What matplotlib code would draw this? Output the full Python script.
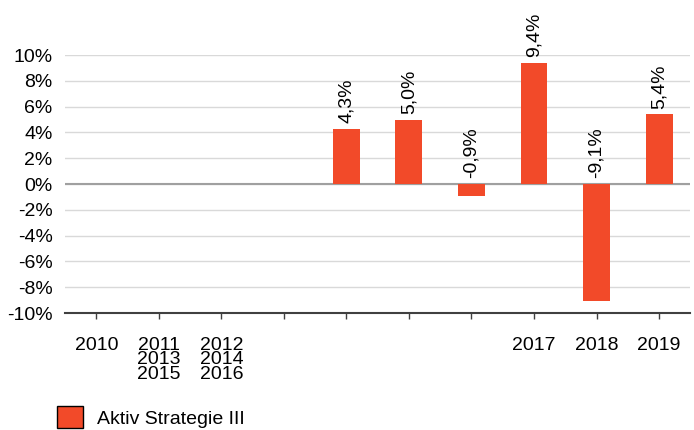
import matplotlib
matplotlib.use("Agg")
import matplotlib.pyplot as plt
from matplotlib.patches import Patch
import matplotlib.transforms as mtransforms

categories = ["2010", "2011\n2013\n2015", "2012\n2014\n2016", "", "", "", "", "2017", "2018", "2019"]
values = [None, None, None, None, 4.3, 5.0, -0.9, 9.4, -9.1, 5.4]
value_labels = ["", "", "", "", "4,3%", "5,0%", "-0,9%", "9,4%", "-9,1%", "5,4%"]
yticks = [-10, -8, -6, -4, -2, 0, 2, 4, 6, 8, 10]
ytick_labels = ["-10%", "-8%", "-6%", "-4%", "-2%", "0%", "2%", "4%", "6%", "8%", "10%"]
series_name = "Aktiv Strategie III"

plt.rcParams['font.family'] = ['Liberation Sans', 'DejaVu Sans']
FS = 14
color = '#F24A29'

fig = plt.figure(figsize=(6.94, 4.30), dpi=100)
ax = fig.add_axes([0.0937, 0.272, 0.901, 0.600])

xs = list(range(len(categories)))
for x, v, lab in zip(xs, values, value_labels):
    if v is None:
        continue
    ax.bar(x, v, width=0.43, color=color, zorder=3)
    y0 = max(v, 0)
    ax.annotate(lab, (x, y0), xytext=(0, 4), textcoords='offset points',
                rotation=90, ha='center', va='bottom', fontsize=FS, clip_on=False)

ax.set_xlim(-0.5, 9.5)
ax.set_ylim(-10, 10)
ax.set_yticks(yticks)
ax.set_yticklabels(ytick_labels, fontsize=FS)
ax.set_xticks(xs)
ax.set_xticklabels(categories, fontsize=FS, linespacing=0.82, va='top')
offset = mtransforms.ScaledTranslation(3 / 100, 0, fig.dpi_scale_trans)
for i, t in enumerate(ax.get_xticklabels()):
    if i < 3:
        t.set_transform(t.get_transform() + offset)
ax.tick_params(axis='y', length=0, pad=9)
ax.tick_params(axis='x', length=4, width=1, color='#404040', pad=13)

ax.grid(axis='y', color='#d9d9d9', lw=1, zorder=0)
ax.axhline(0, color='#a0a0a0', lw=1.5, zorder=2)
for s in ['top', 'right', 'left']:
    ax.spines[s].set_visible(False)
ax.spines['bottom'].set_color('#404040')
ax.spines['bottom'].set_linewidth(1.5)

handle = Patch(facecolor=color, edgecolor='black', linewidth=1)
fig.legend([handle], [series_name], loc='center left', bbox_to_anchor=(0.082, 0.03),
           frameon=False, fontsize=FS, handlelength=1.35, handleheight=1.35, handletextpad=0.7,
           borderaxespad=0, borderpad=0)

fig.savefig("out.png", dpi=100)
